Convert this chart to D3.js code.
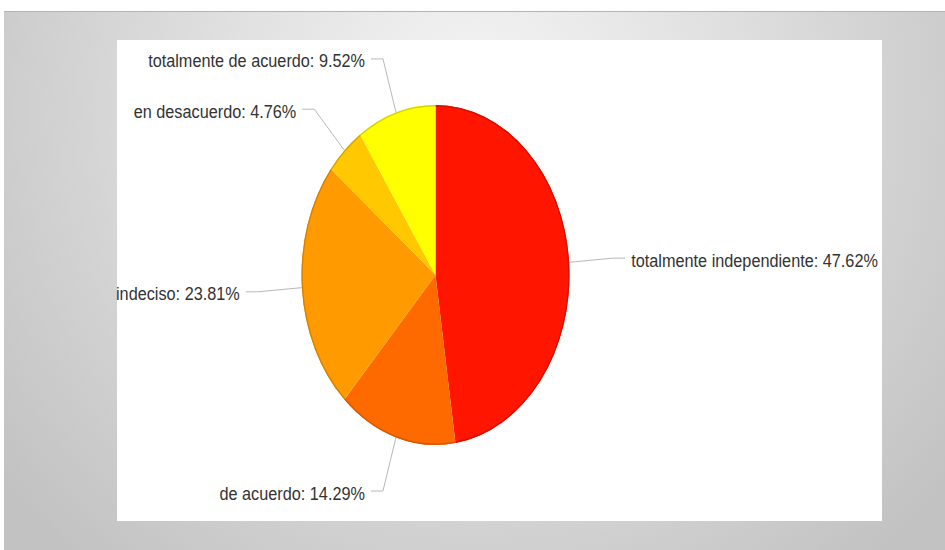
<!DOCTYPE html>
<html>
<head>
<meta charset="utf-8">
<script src="https://cdn.jsdelivr.net/npm/d3@7"></script>
<style>
  html, body { margin: 0; padding: 0; background: #ffffff; }
  svg { display: block; }
</style>
</head>
<body>
<svg id="chart" width="945" height="550"></svg>
<script>
// Survey answers, in drawing order (clockwise from 12 o'clock)
const categories = [
  "totalmente independiente",
  "de acuerdo",
  "indeciso",
  "en desacuerdo",
  "totalmente de acuerdo"
];
const percentages = [47.62, 14.29, 23.81, 4.76, 9.52];
const sliceColors = ["#ff1500", "#ff6a00", "#ff9a00", "#ffc800", "#ffff00"];

const W = 945, H = 550;
const svg = d3.select("#chart");

// slide-style backdrop: soft radial grey behind a white card
const defs = svg.append("defs");
const bg = defs.append("radialGradient")
  .attr("id", "bgGrad")
  .attr("gradientUnits", "userSpaceOnUse")
  .attr("cx", 475).attr("cy", 110).attr("r", 600);
bg.append("stop").attr("offset", 0).attr("stop-color", "#f6f6f6");
bg.append("stop").attr("offset", 1).attr("stop-color", "#c2c2c2");

svg.append("rect").attr("x", 4).attr("y", 11).attr("width", W - 4).attr("height", H - 11)
  .attr("fill", "url(#bgGrad)");
svg.append("line").attr("x1", 4).attr("x2", W).attr("y1", 11.5).attr("y2", 11.5)
  .attr("stroke", "#b4b4b4").attr("stroke-width", 1);

const card = { x: 117, y: 40, w: 765, h: 481 };
svg.append("rect").attr("x", card.x).attr("y", card.y).attr("width", card.w).attr("height", card.h)
  .attr("fill", "#ffffff");

// pie geometry (drawn as a circle, stretched into an ellipse)
const cx = 435.5, cy = 275, rx = 134, ry = 170;

const data = categories.map((c, i) => ({ name: c, value: percentages[i], color: sliceColors[i] }));
const pie = d3.pie().value(d => d.value).sort(null);
const arcs = pie(data);

const arc = d3.arc().innerRadius(0).outerRadius(ry);
const rim = d3.arc().innerRadius(ry - 1.6).outerRadius(ry);

const pieG = svg.append("g")
  .attr("transform", `translate(${cx},${cy}) scale(${rx / ry},1)`);

pieG.selectAll("path.slice")
  .data(arcs)
  .join("path")
  .attr("class", "slice")
  .attr("d", arc)
  .attr("fill", d => d.data.color);

pieG.selectAll("path.rim")
  .data(arcs)
  .join("path")
  .attr("class", "rim")
  .attr("d", rim)
  .attr("fill", d => d3.color(d.data.color).darker(0.5));

// callout labels with elbow leader lines
const fmt = v => v.toFixed(2) + "%";
const push = 1.33, run = 12, gap = 6;
const squeeze = 0.93;   // slightly condensed lettering

const labels = svg.append("g");
arcs.forEach(d => {
  const a = (d.startAngle + d.endAngle) / 2;
  const sx = Math.sin(a), cz = Math.cos(a);
  const ex = cx + rx * sx, ey = cy - ry * cz;
  const bx = cx + push * rx * sx, by = cy - push * ry * cz;
  const dir = sx >= 0 ? 1 : -1;
  const tx = bx + dir * run;

  labels.append("path")
    .attr("d", `M${ex},${ey}L${bx},${by}L${tx},${by}`)
    .attr("fill", "none")
    .attr("stroke", "#b8b8b8")
    .attr("stroke-width", 1);

  labels.append("text")
    .attr("transform", `translate(${tx + dir * gap},${by + 8.5}) scale(${squeeze},1)`)
    .attr("text-anchor", dir > 0 ? "start" : "end")
    .attr("font-family", "'Liberation Sans', Arial, sans-serif")
    .attr("font-size", 17.5)
    .attr("fill", "#333333")
    .text(`${d.data.name}: ${fmt(d.data.value)}`);
});
</script>
</body>
</html>
